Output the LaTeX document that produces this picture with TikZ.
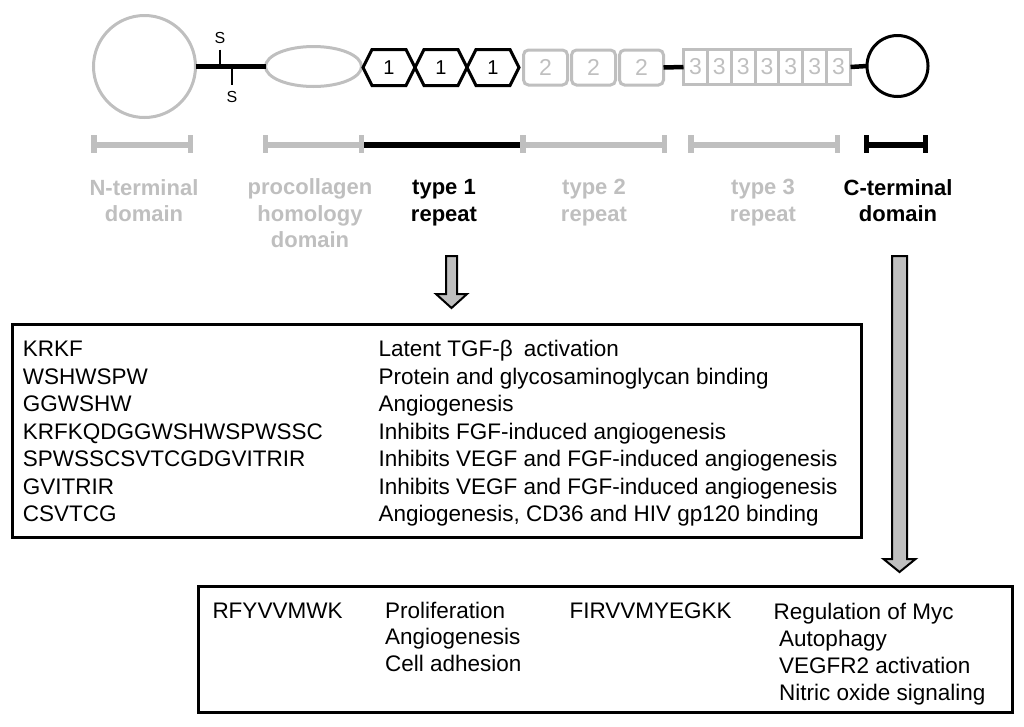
\documentclass[tikz,border=0pt]{standalone}
\usepackage{fontspec}
\setmainfont{Liberation Sans}
\usetikzlibrary{shapes.geometric}
\definecolor{lgray}{RGB}{191,191,191}
\tikzset{
  dom/.style={draw=lgray, line width=3pt, inner sep=0pt, outer sep=0pt},
  link/.style={line width=4.5pt},
  sbond/.style={line width=2.5pt, shorten <=6pt},
  slab/.style={font=\fontsize{16}{18}\selectfont, inner sep=0pt, outer sep=0pt},
  hexa/.style={line width=3pt},
  numa/.style={font=\fontsize{20}{22}\selectfont},
  numb/.style={font=\fontsize{23}{25}\selectfont, text=lgray},
  bar/.style={line width=6pt},
  tickmark/.style={line width=5.5pt},
  lab/.style={font=\fontsize{22}{26.5}\selectfont\bfseries, align=center},
  txt/.style={font=\fontsize{22.5}{27}\selectfont, anchor=base west, inner sep=0pt},
  pbox/.style={draw, line width=3pt, inner sep=0pt, outer sep=0pt},
  blockarrow/.style={draw, fill=lgray, line width=2pt, line join=miter}
}
\begin{document}
\begin{tikzpicture}[x=1pt, y=-1pt]
  \useasboundingbox (0,0) rectangle (1024,726);
  \node [dom, circle, minimum size=102pt] (nterm) at (144.5,66.5) {};
  \node [dom, ellipse, minimum width=96pt, minimum height=40pt] (procol) at (313.5,66.5) {};
  \draw [link] (nterm.east) -- (procol.west);
  \node [slab] (sup) at (220,38) {S};
  \node [slab] (sdown) at (232,96.5) {S};
  \draw [sbond] (sup) -- (sup |- nterm.east);
  \draw [sbond] (sdown) -- (sdown |- nterm.east);
  \foreach \i in {1,2,3} {
    \draw [hexa] (311+52*\i,67.5) -- ++(9,-18) -- ++(34,0) -- ++(9,18) -- ++(-9,18) -- ++(-34,0) -- cycle;
    \node [numa] (hex\i) at (337+52*\i,67.5) {1};
  }
  \foreach \i in {1,2,3}
    \node [dom, rounded corners=5pt, minimum width=44pt, minimum height=35pt, numb] (rtwo\i) at (497.5+48*\i,67.5) {2};
  \foreach \i in {1,...,7}
    \node [dom, minimum width=23.86pt, minimum height=35pt, numb] (rthree\i) at (671.57+23.86*\i,67) {3};
  \node [draw, line width=3pt, circle, minimum size=61pt, inner sep=0pt, outer sep=0pt] (cterm) at (897.5,66) {};
  \draw [link] (rtwo3.east) -- (rthree1.west);
  \draw [link] (rthree7.east) -- (cterm.west);

  \draw [bar, lgray] (92,144.5) -- (193,144.5);
  \draw [bar, lgray] (263,144.5) -- (363,144.5);
  \draw [bar] (363,144.5) -- (520,144.5);
  \draw [bar, lgray] (520,144.5) -- (667,144.5);
  \draw [bar, lgray] (689,144.5) -- (839,144.5);
  \draw [bar] (864,144.5) -- (928,144.5);
  \foreach \x in {94,190.7,265.5,361.5,523,664.7,691,837.3}
    \draw [tickmark, lgray] (\x,135) -- (\x,152.5);
  \foreach \x in {866.7,925.5}
    \draw [tickmark] (\x,135) -- (\x,152.5);

  \node [lab, text=lgray] (lnterm) at (144,200.4) {N-terminal\\domain};
  \node [lab, text=lgray] (lprocol) at (310,213.6) {procollagen\\homology\\domain};
  \node [lab] (ltypeone) at (444,202.6) {type 1\\repeat};
  \node [lab, text=lgray] (ltypetwo) at (594,202.6) {type 2\\repeat};
  \node [lab, text=lgray] (ltypethree) at (763,202.6) {type 3\\repeat};
  \node [lab] (lcterm) at (898,200.4) {C-terminal\\domain};

  \draw [blockarrow] (446,256) -- (457,256) -- (457,294) -- (467,294) -- (451.5,308) -- (436,294) -- (446,294) -- cycle;
  \draw [blockarrow] (892,256) -- (907,256) -- (907,559) -- (915.5,559) -- (899.5,572) -- (883.5,559) -- (892,559) -- cycle;

  \node [pbox, minimum width=849pt, minimum height=213pt] (boxone) at (437,430.5) {};
  \foreach \seq/\fun [count=\i from 0] in {KRKF/Latent TGF-β\enspace activation,
      WSHWSPW/Protein and glycosaminoglycan binding, GGWSHW/Angiogenesis,
      KRFKQDGGWSHWSPWSSC/Inhibits FGF-induced angiogenesis,
      SPWSSCSVTCGDGVITRIR/Inhibits VEGF and FGF-induced angiogenesis,
      GVITRIR/Inhibits VEGF and FGF-induced angiogenesis,
      CSVTCG/{Angiogenesis, CD36 and HIV gp120 binding}} {
    \node [txt] (seq\i) at (22.7,356.7+27.5*\i) {\seq};
    \node [txt] (fun\i) at (378.3,356.7+27.5*\i) {\fun};
  }

  \node [pbox, minimum width=814pt, minimum height=126pt] (boxtwo) at (605,649.5) {};
  \node [txt] (seqa) at (212.3,618) {RFYVVMWK};
  \foreach \fun [count=\i from 0] in {Proliferation, Angiogenesis, Cell adhesion}
    \node [txt] (funa\i) at (385,618+26.8*\i) {\fun};
  \node [txt] (seqb) at (569.3,618) {FIRVVMYEGKK};
  \node [txt] (funb0) at (773.3,619) {Regulation of Myc};
  \foreach \fun [count=\i] in {Autophagy, VEGFR2 activation, Nitric oxide signaling}
    \node [txt] (funb\i) at (779,619+27*\i) {\fun};
\end{tikzpicture}
\end{document}
